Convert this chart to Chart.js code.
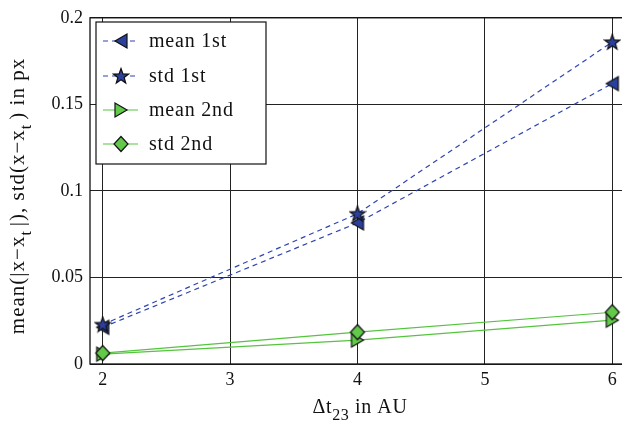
<!DOCTYPE html>
<html>
<head>
<meta charset="utf-8">
<script src="https://cdn.jsdelivr.net/npm/chart.js@4"></script>
<style>
  html, body { margin: 0; padding: 0; background: #fff; overflow: hidden; }
  #wrap { width: 640px; height: 427px; }
</style>
</head>
<body>
<div id="wrap"><canvas id="chart" width="640" height="427"></canvas></div>
<script>
const xValues = [2, 4, 6];
const mean1st = [0.0212, 0.0815, 0.162];
const std1st = [0.0228, 0.0868, 0.186];
const mean2nd = [0.0057, 0.0138, 0.0253];
const std2nd = [0.0063, 0.0184, 0.0299];
const seriesNames = ["mean 1st", "std 1st", "mean 2nd", "std 2nd"];
const yTicks = [0, 0.05, 0.1, 0.15, 0.2];
const xTicks = [2, 3, 4, 5, 6];

const BLUE_LINE = "#2f45b0";
const BLUE_FILL = "#2b3f9c";
const GREEN_LINE = "#55c43e";
const GREEN_FILL = "#62c94a";
const FONT = "'Liberation Serif', 'Times New Roman', serif";

function makeMarker(shape, fill) {
  const s = 18;
  const c = document.createElement("canvas");
  c.width = s; c.height = s;
  const g = c.getContext("2d");
  g.fillStyle = fill;
  g.strokeStyle = "#111";
  g.lineWidth = 1.2;
  g.beginPath();
  const m = s / 2;
  if (shape === "left") {
    g.moveTo(15, 2); g.lineTo(15, 16); g.lineTo(3, m);
  } else if (shape === "right") {
    g.moveTo(3, 2); g.lineTo(3, 16); g.lineTo(15, m);
  } else if (shape === "diamond") {
    g.moveTo(m, 1.5); g.lineTo(16, m); g.lineTo(m, 16.5); g.lineTo(2, m);
  } else if (shape === "star") {
    const R = 8, r = 3.3;
    for (let i = 0; i < 10; i++) {
      const rad = i % 2 === 0 ? R : r;
      const a = -Math.PI / 2 + i * Math.PI / 5;
      const px = m + rad * Math.cos(a), py = m + 0.5 + rad * Math.sin(a);
      if (i === 0) g.moveTo(px, py); else g.lineTo(px, py);
    }
  }
  g.closePath();
  g.fill();
  g.stroke();
  return c;
}

const markers = [
  makeMarker("left", BLUE_FILL),
  makeMarker("star", BLUE_FILL),
  makeMarker("right", GREEN_FILL),
  makeMarker("diamond", GREEN_FILL)
];

function toPoints(ys) {
  return xValues.map((x, i) => ({ x: x, y: ys[i] }));
}

const seriesData = [mean1st, std1st, mean2nd, std2nd];
const lineColors = [BLUE_LINE, BLUE_LINE, GREEN_LINE, GREEN_LINE];
const dashes = [[5, 4], [5, 4], [], []];

const datasets = seriesData.map((ys, i) => ({
  label: seriesNames[i],
  data: toPoints(ys),
  borderColor: lineColors[i],
  borderWidth: 1.2,
  borderDash: dashes[i],
  pointStyle: markers[i],
  pointRadius: 9,
  tension: 0,
  fill: false,
  clip: false
}));
// std markers sit above the mean markers, like the reference
datasets[0].order = 2; datasets[1].order = 1;
datasets[2].order = 4; datasets[3].order = 3;

function drawSubText(ctx, parts, x, y, size, subSize, subShift, gap) {
  // parts: [text, isSub]; centred on x
  const big = size + "px " + FONT, small = subSize + "px " + FONT;
  let total = 0;
  parts.forEach(p => {
    ctx.font = p[1] ? small : big;
    total += ctx.measureText(p[0]).width + (p[1] ? gap : 0);
  });
  let cx = x - total / 2;
  ctx.textAlign = "left";
  ctx.textBaseline = "alphabetic";
  parts.forEach(p => {
    ctx.font = p[1] ? small : big;
    ctx.fillText(p[0], cx, y + (p[1] ? subShift : 0));
    cx += ctx.measureText(p[0]).width + (p[1] ? gap : 0);
  });
}

const decorPlugin = {
  id: "decor",
  afterDraw(chart) {
    const ctx = chart.ctx;
    const a = chart.chartArea;
    ctx.save();
    // axes box
    ctx.strokeStyle = "#111";
    ctx.lineWidth = 1.3;
    ctx.strokeRect(a.left, a.top, a.right - a.left, a.bottom - a.top);

    // legend
    const lx = 96, ly = 22, lw = 170, lh = 142;
    ctx.fillStyle = "#fff";
    ctx.fillRect(lx, ly, lw, lh);
    ctx.strokeStyle = "#111";
    ctx.lineWidth = 1.2;
    ctx.strokeRect(lx, ly, lw, lh);
    const rows = [41, 76, 110, 144];
    chart.data.datasets.forEach((ds, i) => {
      const y = rows[i];
      ctx.strokeStyle = ds.borderColor;
      ctx.lineWidth = 1.2;
      ctx.setLineDash(ds.borderDash);
      ctx.beginPath();
      ctx.moveTo(103, y); ctx.lineTo(138, y);
      ctx.stroke();
      ctx.setLineDash([]);
      ctx.drawImage(ds.pointStyle, 121 - 9, y - 9);
      ctx.fillStyle = "#111";
      ctx.font = "20px " + FONT;
      ctx.letterSpacing = "0.8px";
      ctx.textAlign = "left";
      ctx.textBaseline = "middle";
      ctx.fillText(ds.label, 149, y + 1);
    });

    // x title
    ctx.fillStyle = "#111";
    ctx.letterSpacing = "0.6px";
    drawSubText(ctx, [["\u0394t", false], ["23", true], [" in AU", false]], 360, 413, 20, 16, 7, 0);

    // y title
    ctx.letterSpacing = "1px";
    ctx.translate(24, 196);
    ctx.rotate(-Math.PI / 2);
    drawSubText(ctx, [["mean(|x\u2212x", false], ["t", true], ["|), std(x\u2212x", false], ["t", true], [") in px", false]], 0, 0, 21, 16, 7, 4);
    ctx.restore();
  }
};

new Chart(document.getElementById("chart"), {
  type: "line",
  data: { datasets: datasets },
  plugins: [decorPlugin],
  options: {
    responsive: false,
    animation: false,
    layout: { padding: { top: 15, right: 15, left: 0, bottom: 0 } },
    plugins: { legend: { display: false }, tooltip: { enabled: false } },
    scales: {
      x: {
        type: "linear",
        min: 1.9,
        max: 6.1,
        afterBuildTicks: (s) => { s.ticks = xTicks.map(v => ({ value: v })); },
        afterFit: (s) => { s.height = 63; },
        grid: { color: "#222", lineWidth: 1, drawTicks: false },
        border: { display: false },
        ticks: {
          color: "#111",
          font: { family: FONT, size: 18 },
          padding: 5,
          maxRotation: 0,
          callback: (v) => String(v)
        }
      },
      y: {
        min: 0,
        max: 0.2,
        afterBuildTicks: (s) => { s.ticks = yTicks.map(v => ({ value: v })); },
        afterFit: (s) => { s.width = 90; },
        grid: { color: "#222", lineWidth: 1, drawTicks: false },
        border: { display: false },
        ticks: {
          color: "#111",
          font: { family: FONT, size: 18 },
          padding: 7,
          callback: (v) => String(v)
        }
      }
    }
  }
});
</script>
</body>
</html>
